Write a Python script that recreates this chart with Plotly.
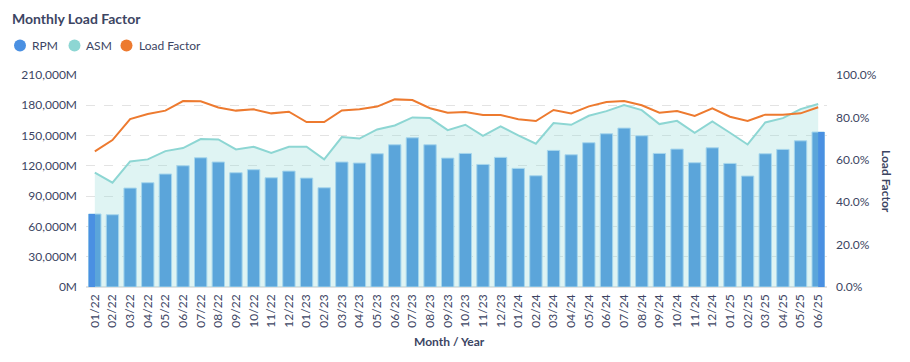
import plotly.graph_objects as go

months = ["01/22","02/22","03/22","04/22","05/22","06/22","07/22","08/22","09/22","10/22","11/22","12/22",
          "01/23","02/23","03/23","04/23","05/23","06/23","07/23","08/23","09/23","10/23","11/23","12/23",
          "01/24","02/24","03/24","04/24","05/24","06/24","07/24","08/24","09/24","10/24","11/24","12/24",
          "01/25","02/25","03/25","04/25","05/25","06/25"]

rpm = [72300, 71600, 98000, 103300, 111900, 120100, 128000, 123800, 113200, 116200, 108200, 114800,
       107900, 98300, 123800, 122800, 132000, 140900, 147800, 140900, 127700, 132300, 121400, 128400,
       117500, 110200, 135300, 131000, 142900, 151800, 157400, 149800, 132300, 136600, 123100, 137900,
       122400, 109900, 132000, 136300, 144800, 153500]

asm = [113200, 103300, 124400, 126400, 134600, 137600, 146500, 146200, 136300, 138900, 132700, 138900,
       138900, 126400, 148500, 147000, 156100, 160000, 168000, 167300, 155400, 160700, 149800, 159100,
       150300, 141900, 162400, 160700, 169600, 174200, 180200, 175200, 161400, 164600, 152800, 164000,
       152800, 141200, 163000, 167300, 176200, 181200]

load_factor = [64.0, 69.3, 79.2, 81.6, 83.2, 87.7, 87.6, 84.7, 83.2, 83.8, 81.9, 82.7,
               77.8, 77.8, 83.3, 83.8, 85.1, 88.5, 88.2, 84.3, 82.2, 82.5, 81.1, 81.1,
               79.1, 78.3, 83.5, 81.9, 85.2, 87.3, 87.7, 85.7, 82.2, 83.0, 80.7, 84.3,
               80.3, 78.3, 81.3, 81.3, 81.9, 84.8]

legend_names = ["RPM", "ASM", "Load Factor"]

left_ticks = [0, 30000, 60000, 90000, 120000, 150000, 180000, 210000]
right_ticks = [0, 20, 40, 60, 80, 100]

TEXT = "#3c4563"
BAR = "#5ba5da"
BAR_DARK = "#4a90e2"
TEAL = "#8dd6d3"
ORANGE = "#ed7a2f"
FONT = "Lato"
legend_colors = [BAR_DARK, TEAL, ORANGE]

W, H = 910, 362
ML, MR, MT, MB = 86, 83, 75, 75
PW, PH = W - ML - MR, H - MT - MB


def px_x(p):
    return (p - ML) / PW


def px_y(p):
    return (H - MB - p) / PH


fig = go.Figure()

# ASM area (left axis)
fig.add_trace(go.Scatter(x=months, y=asm, name="ASM", mode="lines", yaxis="y",
                         line=dict(color=TEAL, width=2), fill="tozeroy",
                         fillcolor="rgba(141,214,211,0.28)", showlegend=False))

# RPM bars on an overlay axis so they sit above the area
fig.add_trace(go.Bar(x=months, y=rpm, name="RPM", yaxis="y3",
                     marker=dict(color=BAR, line=dict(color="#a6d6ec", width=1)),
                     showlegend=False))

# edge highlight on first and last bars
edge_vals = [rpm[0]] + [None] * (len(rpm) - 2) + [rpm[-1]]
edge_offset = [-0.35] + [0] * (len(rpm) - 2) + [0.0]
fig.add_trace(go.Bar(x=months, y=edge_vals, yaxis="y3", width=0.36, offset=edge_offset,
                     marker=dict(color=BAR_DARK, line=dict(width=0)), showlegend=False,
                     hoverinfo="skip"))

# Load factor (right axis)
fig.add_trace(go.Scatter(x=months, y=load_factor, name="Load Factor", mode="lines", yaxis="y2",
                         line=dict(color=ORANGE, width=2), showlegend=False))

# custom legend: circles + text
legend_circle_x = [20, 74.5, 126.5]
legend_text_x = [30, 84, 137]
legend_y = 45.5
shapes = []
annotations = []
for cx, tx, nm, col in zip(legend_circle_x, legend_text_x, legend_names, legend_colors):
    shapes.append(dict(type="circle", xref="paper", yref="paper",
                       xsizemode="pixel", ysizemode="pixel",
                       xanchor=px_x(cx), yanchor=px_y(legend_y),
                       x0=-6, x1=6, y0=-6, y1=6,
                       fillcolor=col, line=dict(width=0)))
    annotations.append(dict(text=nm, xref="paper", yref="paper", x=px_x(tx), y=px_y(legend_y),
                            xanchor="left", yanchor="middle", showarrow=False,
                            font=dict(family=FONT, size=12, color=TEXT)))

annotations.append(dict(text="<b>Load Factor</b>", textangle=90, xref="paper", yref="paper",
                        x=px_x(887), y=0.5, xanchor="center", yanchor="middle", showarrow=False,
                        font=dict(family=FONT, size=12, color=TEXT)))
annotations.append(dict(text="<b>Month / Year</b>", xref="paper", yref="paper",
                        x=px_x(449), y=px_y(341.5), xanchor="center", yanchor="middle",
                        showarrow=False, font=dict(family=FONT, size=12, color=TEXT)))

fig.update_layout(
    width=W, height=H,
    margin=dict(l=ML, r=MR, t=MT, b=MB, autoexpand=False),
    paper_bgcolor="white", plot_bgcolor="white",
    font=dict(family=FONT, color=TEXT, size=12),
    barmode="overlay", bargap=0.3,
    showlegend=False,
    title=dict(text="<b>Monthly Load Factor</b>", x=12/W, xref="container", xanchor="left",
               y=1 - 19.5/H, yref="container", yanchor="middle",
               font=dict(family=FONT, size=14, color=TEXT)),
    xaxis=dict(type="category", tickangle=-90, showgrid=False, showline=False, ticks="",
               ticklabelstandoff=4,
               tickfont=dict(family=FONT, size=12, color=TEXT)),
    yaxis=dict(range=[0, 210000], tickvals=left_ticks,
               ticktext=[f"{v:,}M" for v in left_ticks],
               showgrid=True, gridcolor="#e3e3e3", griddash="dash", gridwidth=1,
               zeroline=True, zerolinecolor="#e3e3e3", showline=False, ticks="",
               ticklabelstandoff=8,
               tickfont=dict(family=FONT, size=12, color=TEXT)),
    yaxis3=dict(range=[0, 210000], overlaying="y", visible=False, showgrid=False),
    yaxis2=dict(range=[0, 100], overlaying="y", side="right", tickvals=right_ticks,
                ticktext=[f"{v:.1f}%" for v in right_ticks],
                showgrid=False, zeroline=False, showline=False, ticks="",
                ticklabelstandoff=8,
                tickfont=dict(family=FONT, size=12, color=TEXT)),
    shapes=shapes,
    annotations=annotations,
)

fig.write_html("out.html", config={"displayModeBar": False},
               post_script="document.body.style.margin='0';")
